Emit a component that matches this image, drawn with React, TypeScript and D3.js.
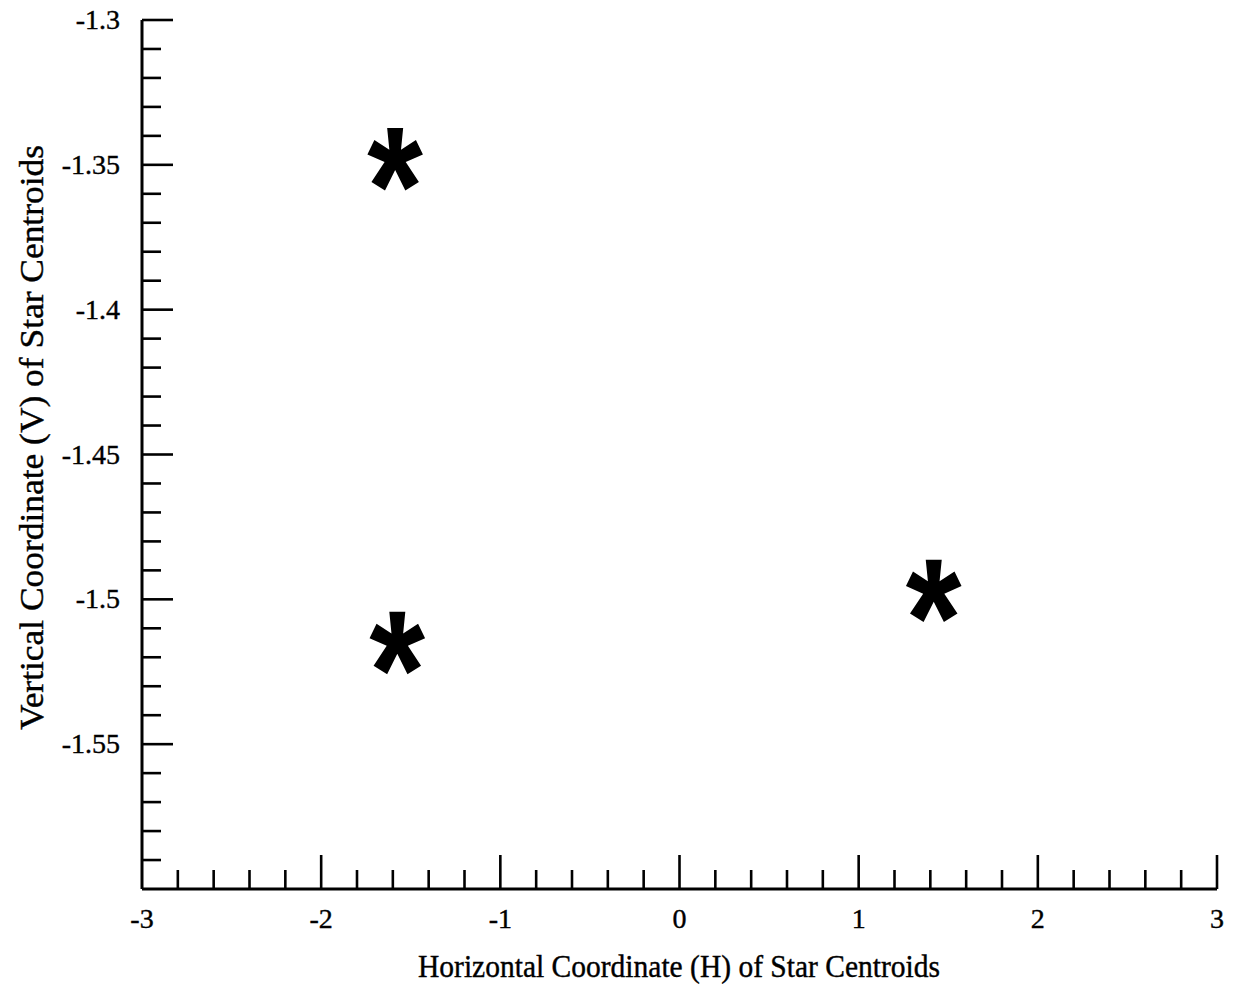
import React from "react";
import * as d3 from "d3";

const width = 1242;
const height = 992;

// star centroid positions (H, V)
const starH = [-1.587, -1.575, 1.419];
const starV = [-1.348, -1.515, -1.497];

const xLabels = ["-3", "-2", "-1", "0", "1", "2", "3"];
const yLabels = ["-1.3", "-1.35", "-1.4", "-1.45", "-1.5", "-1.55"];

const xTitle = "Horizontal Coordinate (H) of Star Centroids";
const yTitle = "Vertical Coordinate (V) of Star Centroids";

const x = d3.scaleLinear().domain([-3, 3]).range([142, 1217]);
const y = d3.scaleLinear().domain([-1.6, -1.3]).range([889, 20]);

// minor ticks every 0.2 on H, every 0.01 on V
const xTicks = d3.range(1, 31).map(i => -3 + i * 0.2);
const yTicks = d3.range(0, 30).map(i => -1.3 - i * 0.01);

const isMajor = (v: number, step: number) => Math.abs(v / step - Math.round(v / step)) < 1e-6;

// five-armed asterisk, arms flare out toward the tips
function asteriskPath(cx: number, cy: number) {
  const arms = [[0, 31], [64, 27], [148, 32], [212, 32], [296, 27]];
  const tipHalf = 8;
  const rIn = 11;
  const pts: [number, number][] = [];
  arms.forEach(([deg, len], i) => {
    const a = (deg * Math.PI) / 180;
    const dx = Math.sin(a);
    const dy = -Math.cos(a);
    const px = -dy;
    const py = dx;
    pts.push([cx + dx * len - px * tipHalf, cy + dy * len - py * tipHalf]);
    pts.push([cx + dx * len + px * tipHalf, cy + dy * len + py * tipHalf]);
    const nextDeg = i < 4 ? arms[i + 1][0] : 360;
    const mid = (((deg + nextDeg) / 2) * Math.PI) / 180;
    pts.push([cx + Math.sin(mid) * rIn, cy - Math.cos(mid) * rIn]);
  });
  return d3.line()(pts) + "Z";
}

export default function App() {
  const font = "'Liberation Serif', 'Times New Roman', serif";
  return (
    <svg width={width} height={height} style={{ position: "absolute", left: 0, top: 0, background: "#fff" }}>
      <g stroke="#000" strokeWidth={2.6} fill="none">
        <line x1={x(-3)} x2={x(-3)} y1={y(-1.3)} y2={y(-1.6)} strokeWidth={3} />
        <line x1={x(-3)} x2={x(3)} y1={y(-1.6)} y2={y(-1.6)} strokeWidth={3} />
        {xTicks.map((t, i) => (
          <line key={"xt" + i} x1={x(t)} x2={x(t)} y1={y(-1.6)}
            y2={y(-1.6) - (isMajor(t, 1) ? 34 : 19)} />
        ))}
        {yTicks.map((t, i) => (
          <line key={"yt" + i} x1={x(-3)} y1={y(t)} y2={y(t)}
            x2={x(-3) + (isMajor(t, 0.05) ? 31 : 19)} />
        ))}
      </g>
      <g fontFamily={font} fontSize={28} fill="#000" stroke="#000" strokeWidth={0.4}>
        {xLabels.map(l => (
          <text key={l} x={x(+l)} y={928} textAnchor="middle">{l}</text>
        ))}
        {yLabels.map(l => (
          <text key={l} x={120} y={y(+l) + 9} textAnchor="end">{l}</text>
        ))}
        <text x={418} y={977} fontSize={32} textLength={522} lengthAdjust="spacingAndGlyphs">{xTitle}</text>
        <text transform="translate(43,730) rotate(-90)" fontSize={34} textLength={585}
          lengthAdjust="spacingAndGlyphs">{yTitle}</text>
      </g>
      <g fill="#000">
        {starH.map((h, i) => (
          <path key={i} d={asteriskPath(x(h), y(starV[i]))} />
        ))}
      </g>
    </svg>
  );
}
